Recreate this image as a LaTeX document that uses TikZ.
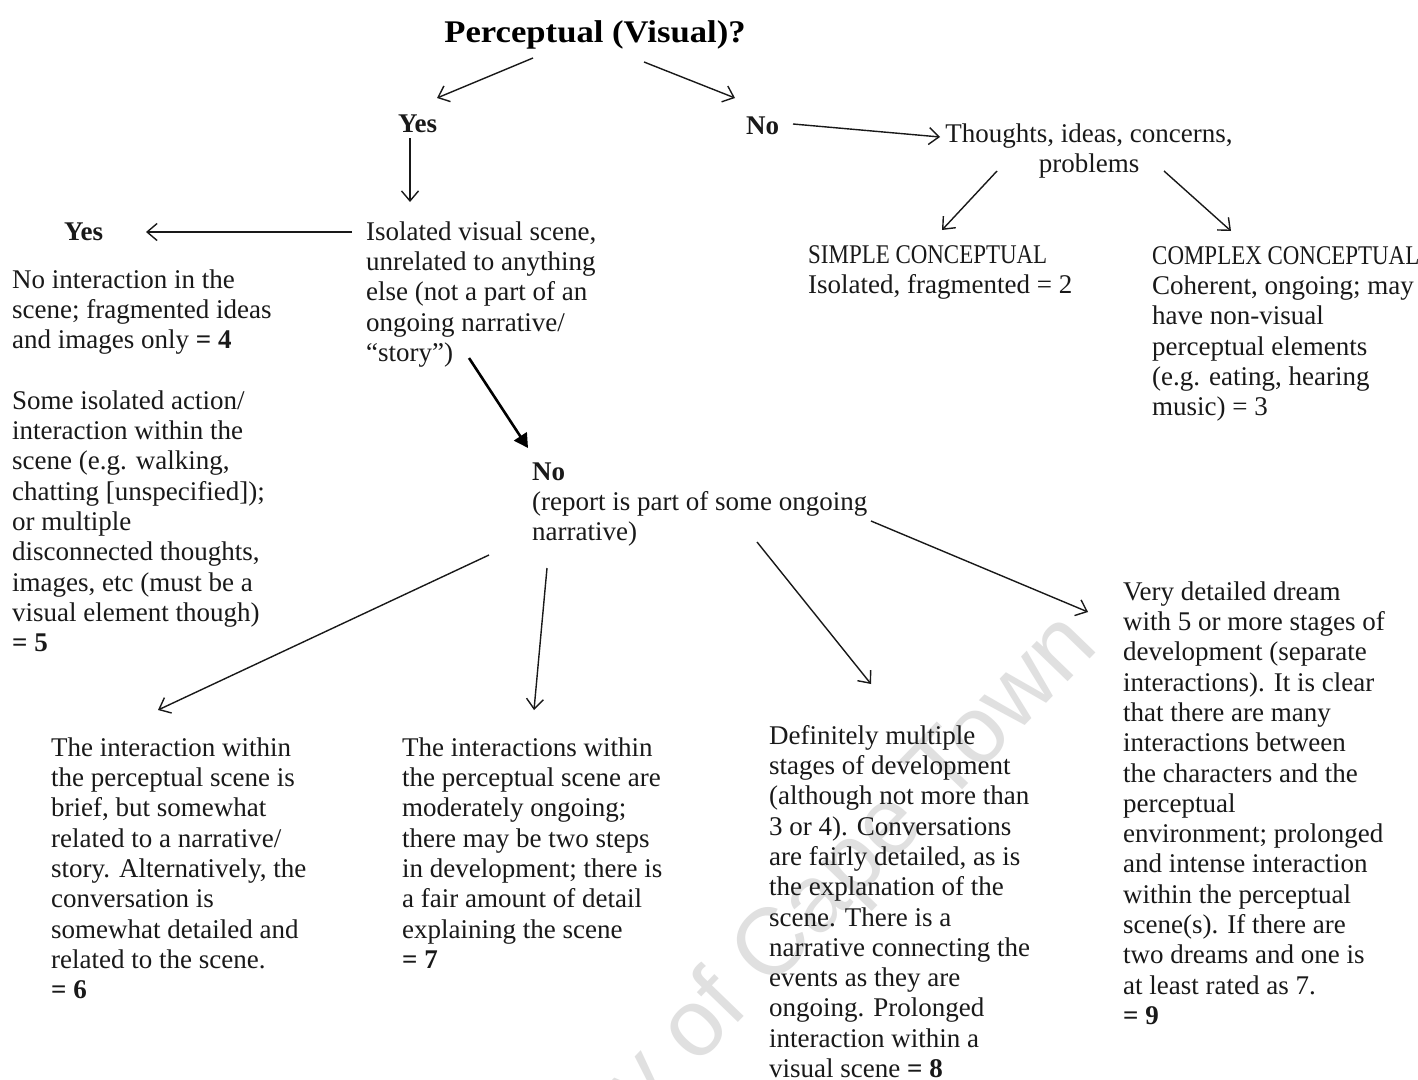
\documentclass[tikz,border=0pt]{standalone}
\usepackage{fontspec}
\setmainfont{Liberation Serif}
\newfontfamily\condfont[FakeStretch=0.85]{Liberation Serif}
\newfontfamily\titlefont[FakeStretch=1.1]{Liberation Serif}
\newfontfamily\wmfont{Liberation Sans}
\usetikzlibrary{arrows.meta}
\newcommand\myst{\rule{0pt}{20pt}}
\tikzset{
  txt/.style={anchor=north west, inner sep=0pt, align=left, text=black!90,
    font=\fontsize{27}{30.3}\selectfont},
  lbl/.style={anchor=base west, inner sep=0pt, text=black!90,
    font=\fontsize{27}{30.3}\selectfont\bfseries},
  arr/.style={line width=1.4pt, draw=black!90,
    -{Straight Barb[length=10pt,width=17pt,line width=1.4pt]}},
  boldarr/.style={line width=2.6pt, draw=black,
    -{Triangle[length=14pt,width=15pt]}}
}
\begin{document}
\begin{tikzpicture}[x=1pt,y=-1pt]
\useasboundingbox (0,0) rectangle (1418,1079);
\fill[white] (0,0) rectangle (1418,1079);
% watermark
\begin{scope}
\clip (0,0) rectangle (1418,1079);
\node[rotate=46, anchor=base east, inner sep=0pt, text=black!12,
  font=\wmfont\fontsize{95}{95}\selectfont] (wm) at (1100,648) {University of Cape Town};
\end{scope}

% nodes
\node[anchor=base, inner sep=0pt, text=black,
  font=\titlefont\fontsize{31.5}{34}\selectfont\bfseries] (title) at (595,42) {Perceptual (Visual)?};
\node[lbl] (yesA) at (398,132) {Yes};
\node[lbl] (noA) at (746,134) {No};
\node[txt, anchor=north, align=center] (thoughts) at (1089,122) {\myst Thoughts, ideas, concerns,\\problems};
\node[lbl] (yesB) at (64,240) {Yes};
\node[txt] (iso) at (366,220) {\myst Isolated visual scene,\\unrelated to anything\\else (not a part of an\\ongoing narrative/\\“story”)};
\node[txt] (four) at (12,268) {\myst No interaction in the\\scene; fragmented ideas\\and images only \textbf{= 4}};
\node[txt] (five) at (12,389) {\myst Some isolated action/\\interaction within the\\scene (e.g. walking,\\chatting [unspecified]);\\or multiple\\disconnected thoughts,\\images, etc (must be a\\visual element though)\\\textbf{= 5}};
\node[txt] (simple) at (808,243) {\myst{\condfont SIMPLE CONCEPTUAL}\\Isolated, fragmented = 2};
\node[txt] (complex) at (1152,244) {\myst{\condfont COMPLEX CONCEPTUAL}\\Coherent, ongoing; may\\have non-visual\\perceptual elements\\(e.g. eating, hearing\\music) = 3};
\node[txt] (noB) at (532,460) {\myst\textbf{No}\\(report is part of some ongoing\\narrative)};
\node[txt] (six) at (51,736) {\myst The interaction within\\the perceptual scene is\\brief, but somewhat\\related to a narrative/\\story. Alternatively, the\\conversation is\\somewhat detailed and\\related to the scene.\\\textbf{= 6}};
\node[txt] (seven) at (402,736) {\myst The interactions within\\the perceptual scene are\\moderately ongoing;\\there may be two steps\\in development; there is\\a fair amount of detail\\explaining the scene\\\textbf{= 7}};
\node[txt] (eight) at (769,724) {\myst Definitely multiple\\stages of development\\(although not more than\\3 or 4). Conversations\\are fairly detailed, as is\\the explanation of the\\scene. There is a\\narrative connecting the\\events as they are\\ongoing. Prolonged\\interaction within a\\visual scene \textbf{= 8}};
\node[txt] (nine) at (1123,580) {\myst Very detailed dream\\with 5 or more stages of\\development (separate\\interactions). It is clear\\that there are many\\interactions between\\the characters and the\\perceptual\\environment; prolonged\\and intense interaction\\within the perceptual\\scene(s). If there are\\two dreams and one is\\at least rated as 7.\\\textbf{= 9}};

% connector end points
\coordinate (titleL) at (533,58);  \coordinate (yesAin) at (437,98);
\coordinate (titleR) at (644,62);  \coordinate (noAin) at (735,98);
\coordinate (yesAout) at (410,138); \coordinate (isoin) at (410,202);
\coordinate (noAout) at (793,124); \coordinate (thin) at (940,137);
\coordinate (thL) at (997,171);    \coordinate (simplein) at (942,230);
\coordinate (thR) at (1164,171);   \coordinate (complexin) at (1231,231);
\coordinate (isoL) at (352,232);   \coordinate (yesBin) at (146,232);
\coordinate (isoB) at (469,358);   \coordinate (noBin) at (528,448);
\coordinate (noB1) at (489,555);   \coordinate (sixin) at (158,710);
\coordinate (noB2) at (547,568);   \coordinate (sevenin) at (534,710);
\coordinate (noB3) at (757,542);   \coordinate (eightin) at (871,684);
\coordinate (noB4) at (871,521);   \coordinate (ninein) at (1088,612);

% connectors
\draw[arr] (titleL) -- (yesAin);
\draw[arr] (titleR) -- (noAin);
\draw[arr] (yesAout) -- (isoin);
\draw[arr] (noAout) -- (thin);
\draw[arr] (thL) -- (simplein);
\draw[arr] (thR) -- (complexin);
\draw[arr] (isoL) -- (yesBin);
\draw[boldarr] (isoB) -- (noBin);
\draw[arr] (noB1) -- (sixin);
\draw[arr] (noB2) -- (sevenin);
\draw[arr] (noB3) -- (eightin);
\draw[arr] (noB4) -- (ninein);
\end{tikzpicture}
\end{document}
